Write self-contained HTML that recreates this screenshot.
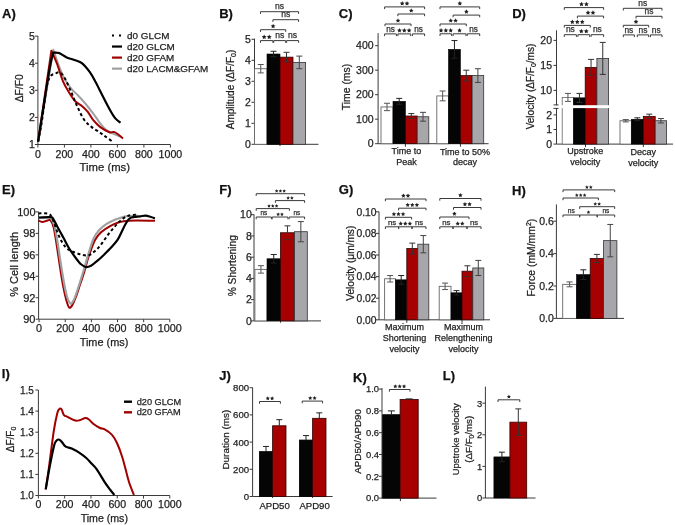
<!DOCTYPE html>
<html><head><meta charset="utf-8"><style>
html,body{margin:0;padding:0;background:#fff;width:675px;height:525px;overflow:hidden}
svg{display:block;font-family:"Liberation Sans", sans-serif}
text{stroke:#1e1e1e;stroke-width:0.25px;paint-order:stroke}
svg{will-change:transform}
</style></head><body>
<svg width="675" height="525" viewBox="0 0 675 525">
<rect width="675" height="525" fill="#fff"/>
<text x="2.1" y="18.4" font-size="13" text-anchor="start" font-weight="bold" fill="#111">A)</text>
<line x1="37.9" y1="36" x2="37.9" y2="144.5" stroke="#3a3a3a" stroke-width="1"/>
<line x1="34.9" y1="144.5" x2="37.9" y2="144.5" stroke="#3a3a3a" stroke-width="1"/>
<text x="34.9" y="148.28" font-size="10.5" text-anchor="end" font-weight="normal" fill="#1e1e1e">1</text>
<line x1="34.9" y1="117.4" x2="37.9" y2="117.4" stroke="#3a3a3a" stroke-width="1"/>
<text x="34.9" y="121.18" font-size="10.5" text-anchor="end" font-weight="normal" fill="#1e1e1e">2</text>
<line x1="34.9" y1="90.3" x2="37.9" y2="90.3" stroke="#3a3a3a" stroke-width="1"/>
<text x="34.9" y="94.08" font-size="10.5" text-anchor="end" font-weight="normal" fill="#1e1e1e">3</text>
<line x1="34.9" y1="63.19999999999999" x2="37.9" y2="63.19999999999999" stroke="#3a3a3a" stroke-width="1"/>
<text x="34.9" y="66.97999999999999" font-size="10.5" text-anchor="end" font-weight="normal" fill="#1e1e1e">4</text>
<line x1="34.9" y1="36.099999999999994" x2="37.9" y2="36.099999999999994" stroke="#3a3a3a" stroke-width="1"/>
<text x="34.9" y="39.879999999999995" font-size="10.5" text-anchor="end" font-weight="normal" fill="#1e1e1e">5</text>
<line x1="37.9" y1="144.5" x2="170.4" y2="144.5" stroke="#3a3a3a" stroke-width="1"/>
<line x1="37.9" y1="144.5" x2="37.9" y2="147.5" stroke="#3a3a3a" stroke-width="1"/>
<line x1="64.4" y1="144.5" x2="64.4" y2="147.5" stroke="#3a3a3a" stroke-width="1"/>
<line x1="90.9" y1="144.5" x2="90.9" y2="147.5" stroke="#3a3a3a" stroke-width="1"/>
<line x1="117.4" y1="144.5" x2="117.4" y2="147.5" stroke="#3a3a3a" stroke-width="1"/>
<line x1="143.9" y1="144.5" x2="143.9" y2="147.5" stroke="#3a3a3a" stroke-width="1"/>
<line x1="170.4" y1="144.5" x2="170.4" y2="147.5" stroke="#3a3a3a" stroke-width="1"/>
<text x="37.9" y="158.1" font-size="10.6" text-anchor="middle" font-weight="normal" fill="#1e1e1e">0</text>
<text x="64.4" y="158.1" font-size="10.6" text-anchor="middle" font-weight="normal" fill="#1e1e1e">200</text>
<text x="90.9" y="158.1" font-size="10.6" text-anchor="middle" font-weight="normal" fill="#1e1e1e">400</text>
<text x="117.4" y="158.1" font-size="10.6" text-anchor="middle" font-weight="normal" fill="#1e1e1e">600</text>
<text x="143.9" y="158.1" font-size="10.6" text-anchor="middle" font-weight="normal" fill="#1e1e1e">800</text>
<text x="170.4" y="158.1" font-size="10.6" text-anchor="middle" font-weight="normal" fill="#1e1e1e">1000</text>
<text x="104.8" y="171" font-size="11.3" text-anchor="middle" font-weight="normal" fill="#1e1e1e">Time (ms)</text>
<text x="23" y="88.3" font-size="10.3" text-anchor="middle" font-weight="normal" fill="#1e1e1e" transform="rotate(-90 23 88.3)">ΔF/F0</text>
<path d="M38.1 141.7 C40.6 126.4 50.8 65.1 53.3 49.8 C54.2 52.5 57.1 61.1 59.0 66.0 C60.9 70.9 62.7 75.5 64.8 79.3 C66.9 83.1 69.2 86.1 71.4 88.8 C73.6 91.5 75.7 93.0 78.1 95.5 C80.5 98.0 83.2 101.0 85.7 104.0 C88.2 107.0 90.9 110.4 93.3 113.6 C95.7 116.8 97.8 120.3 100.0 123.1 C102.2 125.8 103.8 128.2 106.3 130.1 C108.8 132.0 112.2 133.2 114.7 134.3 C117.2 135.4 120.0 136.5 121.0 136.9" fill="none" stroke="#a0a0a0" stroke-width="2" stroke-linejoin="round"/>
<path d="M38.1 141.7 C40.3 126.5 49.2 65.9 51.4 50.7 C52.4 52.9 55.2 58.9 57.1 64.0 C59.0 69.1 61.0 76.6 62.9 81.2 C64.8 85.8 66.5 88.4 68.6 91.7 C70.6 95.0 73.0 98.8 75.2 101.2 C77.4 103.6 79.8 104.2 81.9 106.0 C84.0 107.8 85.7 109.3 87.6 111.7 C89.5 114.1 91.2 117.7 93.3 120.2 C95.4 122.7 97.3 124.9 100.0 126.9 C102.7 128.9 107.0 131.3 109.4 132.2 C111.9 133.1 112.4 131.1 114.7 132.2 C117.0 133.2 121.6 137.4 123.0 138.5" fill="none" stroke="#a00000" stroke-width="2" stroke-linejoin="round"/>
<path d="M38.1 141.7 C38.7 138.3 40.5 130.3 41.9 121.2 C43.3 112.1 45.3 94.4 46.7 86.9 C48.1 79.4 49.1 78.6 50.5 76.4 C51.9 74.2 53.6 74.2 55.2 73.6 C56.8 73.0 58.4 71.8 60.0 72.6 C61.6 73.4 62.9 75.0 64.8 78.3 C66.7 81.6 69.4 88.0 71.4 92.6 C73.5 97.2 75.0 101.5 77.1 106.0 C79.2 110.5 81.4 115.8 83.8 119.3 C86.2 122.8 88.7 124.7 91.4 126.9 C94.1 129.1 97.7 131.0 100.0 132.6 C102.3 134.2 103.1 134.9 105.2 136.4 C107.3 137.9 111.4 140.8 112.6 141.7" fill="none" stroke="#000" stroke-width="2" stroke-linejoin="round" stroke-dasharray="3 2.6"/>
<path d="M38.1 141.7 C39.4 133.5 43.6 105.5 45.7 92.6 C47.8 79.6 49.2 70.7 50.5 64.0 C51.8 57.3 52.8 54.5 53.3 52.6 C54.2 52.7 56.8 52.2 59.0 53.0 C61.2 53.8 64.0 56.2 66.7 57.4 C69.4 58.6 72.7 59.2 75.2 60.2 C77.7 61.2 79.5 61.2 81.9 63.1 C84.3 65.0 87.3 68.7 89.5 71.7 C91.7 74.7 93.5 78.0 95.2 81.2 C97.0 84.4 97.8 86.4 100.0 90.7 C102.2 95.0 106.0 102.6 108.4 107.1 C110.9 111.6 112.7 115.0 114.7 117.6 C116.7 120.2 119.5 121.9 120.5 122.8" fill="none" stroke="#000" stroke-width="2.2" stroke-linejoin="round"/>
<line x1="112" y1="35.5" x2="122" y2="35.5" stroke="#000" stroke-width="2.2" stroke-dasharray="2 5"/>
<text x="127.1" y="39.0" font-size="9.9" text-anchor="start" font-weight="normal" fill="#1e1e1e">d0 GLCM</text>
<line x1="112" y1="46.55" x2="122" y2="46.55" stroke="#000" stroke-width="2.2"/>
<text x="127.1" y="50.05" font-size="9.9" text-anchor="start" font-weight="normal" fill="#1e1e1e">d20 GLCM</text>
<line x1="112" y1="57.6" x2="122" y2="57.6" stroke="#a00000" stroke-width="2.2"/>
<text x="127.1" y="61.1" font-size="9.9" text-anchor="start" font-weight="normal" fill="#1e1e1e">d20 GFAM</text>
<line x1="112" y1="68.65" x2="122" y2="68.65" stroke="#a0a0a0" stroke-width="2.2"/>
<text x="127.1" y="72.15" font-size="9.9" text-anchor="start" font-weight="normal" fill="#1e1e1e">d20 LACM&amp;GFAM</text>
<text x="219.2" y="18.4" font-size="13" text-anchor="start" font-weight="bold" fill="#111">B)</text>
<line x1="254.5" y1="38.6" x2="254.5" y2="144.3" stroke="#3a3a3a" stroke-width="1"/>
<line x1="251.5" y1="144.3" x2="254.5" y2="144.3" stroke="#3a3a3a" stroke-width="1"/>
<text x="250.8" y="148.08" font-size="10.5" text-anchor="end" font-weight="normal" fill="#1e1e1e">0</text>
<line x1="251.5" y1="123.30000000000001" x2="254.5" y2="123.30000000000001" stroke="#3a3a3a" stroke-width="1"/>
<text x="250.8" y="127.08000000000001" font-size="10.5" text-anchor="end" font-weight="normal" fill="#1e1e1e">1</text>
<line x1="251.5" y1="102.30000000000001" x2="254.5" y2="102.30000000000001" stroke="#3a3a3a" stroke-width="1"/>
<text x="250.8" y="106.08000000000001" font-size="10.5" text-anchor="end" font-weight="normal" fill="#1e1e1e">2</text>
<line x1="251.5" y1="81.30000000000001" x2="254.5" y2="81.30000000000001" stroke="#3a3a3a" stroke-width="1"/>
<text x="250.8" y="85.08000000000001" font-size="10.5" text-anchor="end" font-weight="normal" fill="#1e1e1e">3</text>
<line x1="251.5" y1="60.30000000000001" x2="254.5" y2="60.30000000000001" stroke="#3a3a3a" stroke-width="1"/>
<text x="250.8" y="64.08000000000001" font-size="10.5" text-anchor="end" font-weight="normal" fill="#1e1e1e">4</text>
<line x1="251.5" y1="39.30000000000001" x2="254.5" y2="39.30000000000001" stroke="#3a3a3a" stroke-width="1"/>
<text x="250.8" y="43.08000000000001" font-size="10.5" text-anchor="end" font-weight="normal" fill="#1e1e1e">5</text>
<line x1="254.5" y1="144.3" x2="318.5" y2="144.3" stroke="#3a3a3a" stroke-width="1"/>
<line x1="280" y1="144.3" x2="280" y2="146.10000000000002" stroke="#3a3a3a" stroke-width="1"/>
<rect x="254.5" y="68.7" width="12.5" height="75.60000000000001" fill="#fff" stroke="#666" stroke-width="0.9"/>
<path d="M257.75 64.5 H263.75 M260.75 64.5 V72.90000000000002 M257.75 72.90000000000002 H263.75" fill="none" stroke="#555" stroke-width="1"/>
<rect x="267" y="54.000000000000014" width="13" height="90.3" fill="#050505" stroke="#000" stroke-width="0.6"/>
<path d="M270.5 51.27000000000001 H276.5 M273.5 51.27000000000001 V56.73000000000002 M270.5 56.73000000000002 H276.5" fill="none" stroke="#222" stroke-width="1"/>
<rect x="280" y="57.150000000000006" width="13" height="87.15" fill="#a60000" stroke="#300" stroke-width="0.8"/>
<path d="M283.5 52.31999999999999 H289.5 M286.5 52.31999999999999 V61.980000000000004 M283.5 61.980000000000004 H289.5" fill="none" stroke="#333" stroke-width="1"/>
<rect x="293" y="62.40000000000002" width="12.600000000000023" height="81.89999999999999" fill="#a7a7ab" stroke="#333" stroke-width="0.8"/>
<path d="M296.3 56.10000000000001 H302.3 M299.3 56.10000000000001 V68.7 M296.3 68.7 H302.3" fill="none" stroke="#444" stroke-width="1"/>
<path d="M260.5 42.800000000000004 V40.6 H272.9 V42.800000000000004" fill="none" stroke="#3a3a3a" stroke-width="1.0"/>
<polygon points="264.17,34.55 264.91,36.06 266.58,36.30 265.37,37.47 265.66,39.13 264.17,38.34 262.68,39.13 262.97,37.47 261.76,36.30 263.43,36.06" fill="#222"/>
<polygon points="269.23,34.55 269.97,36.06 271.64,36.30 270.43,37.47 270.72,39.13 269.23,38.34 267.74,39.13 268.03,37.47 266.82,36.30 268.49,36.06" fill="#222"/>
<path d="M273.7 42.800000000000004 V40.6 H285.7 V42.800000000000004" fill="none" stroke="#3a3a3a" stroke-width="1.0"/>
<text x="279.7" y="38.3" font-size="8.58" text-anchor="middle" font-weight="normal" fill="#333">ns</text>
<path d="M286.6 42.800000000000004 V40.6 H298.6 V42.800000000000004" fill="none" stroke="#3a3a3a" stroke-width="1.0"/>
<text x="292.6" y="38.3" font-size="8.58" text-anchor="middle" font-weight="normal" fill="#333">ns</text>
<path d="M260.5 31.9 V29.7 H285.7 V31.9" fill="none" stroke="#3a3a3a" stroke-width="1.0"/>
<polygon points="273.10,23.65 273.84,25.16 275.51,25.40 274.30,26.57 274.59,28.23 273.10,27.45 271.61,28.23 271.90,26.57 270.69,25.40 272.36,25.16" fill="#222"/>
<path d="M272.9 21.9 V19.7 H298.6 V21.9" fill="none" stroke="#3a3a3a" stroke-width="1.0"/>
<text x="285.75" y="17.4" font-size="8.58" text-anchor="middle" font-weight="normal" fill="#333">ns</text>
<path d="M260.5 13.899999999999999 V11.7 H298.6 V13.899999999999999" fill="none" stroke="#3a3a3a" stroke-width="1.0"/>
<text x="279.55" y="9.4" font-size="8.58" text-anchor="middle" font-weight="normal" fill="#333">ns</text>
<text x="234" y="89.5" font-size="10" text-anchor="middle" font-weight="normal" fill="#1e1e1e" transform="rotate(-90 234 89.5)">Amplitude (ΔF/F<tspan font-size="7" dy="2">0</tspan><tspan dy="-2">)</tspan></text>
<text x="338.8" y="18.4" font-size="13" text-anchor="start" font-weight="bold" fill="#111">C)</text>
<line x1="378.1" y1="33.1" x2="378.1" y2="143.7" stroke="#3a3a3a" stroke-width="1"/>
<line x1="375.1" y1="143.7" x2="378.1" y2="143.7" stroke="#3a3a3a" stroke-width="1"/>
<text x="373.6" y="147.48" font-size="10.5" text-anchor="end" font-weight="normal" fill="#1e1e1e">0</text>
<line x1="375.1" y1="119.19999999999999" x2="378.1" y2="119.19999999999999" stroke="#3a3a3a" stroke-width="1"/>
<text x="373.6" y="122.97999999999999" font-size="10.5" text-anchor="end" font-weight="normal" fill="#1e1e1e">100</text>
<line x1="375.1" y1="94.69999999999999" x2="378.1" y2="94.69999999999999" stroke="#3a3a3a" stroke-width="1"/>
<text x="373.6" y="98.47999999999999" font-size="10.5" text-anchor="end" font-weight="normal" fill="#1e1e1e">200</text>
<line x1="375.1" y1="70.19999999999999" x2="378.1" y2="70.19999999999999" stroke="#3a3a3a" stroke-width="1"/>
<text x="373.6" y="73.97999999999999" font-size="10.5" text-anchor="end" font-weight="normal" fill="#1e1e1e">300</text>
<line x1="375.1" y1="45.69999999999999" x2="378.1" y2="45.69999999999999" stroke="#3a3a3a" stroke-width="1"/>
<text x="373.6" y="49.47999999999999" font-size="10.5" text-anchor="end" font-weight="normal" fill="#1e1e1e">400</text>
<line x1="378.1" y1="143.7" x2="488.6" y2="143.7" stroke="#3a3a3a" stroke-width="1"/>
<line x1="405.4" y1="143.7" x2="405.4" y2="146.7" stroke="#3a3a3a" stroke-width="1"/>
<line x1="460.4" y1="143.7" x2="460.4" y2="146.7" stroke="#3a3a3a" stroke-width="1"/>
<rect x="381" y="106.94999999999999" width="12" height="36.75" fill="#fff" stroke="#666" stroke-width="0.9"/>
<path d="M384.0 103.27499999999999 H390.0 M387.0 103.27499999999999 V110.62499999999999 M384.0 110.62499999999999 H390.0" fill="none" stroke="#555" stroke-width="1"/>
<rect x="393" y="101.315" width="12.399999999999977" height="42.38499999999999" fill="#050505" stroke="#000" stroke-width="0.6"/>
<path d="M396.2 98.375 H402.2 M399.2 98.375 V104.255 M396.2 104.255 H402.2" fill="none" stroke="#222" stroke-width="1"/>
<rect x="405.4" y="116.01499999999999" width="11.800000000000011" height="27.685000000000002" fill="#a60000" stroke="#300" stroke-width="0.8"/>
<path d="M408.29999999999995 113.565 H414.29999999999995 M411.29999999999995 113.565 V118.46499999999999 M408.29999999999995 118.46499999999999 H414.29999999999995" fill="none" stroke="#333" stroke-width="1"/>
<rect x="417.2" y="116.74999999999999" width="11.600000000000023" height="26.950000000000003" fill="#a7a7ab" stroke="#333" stroke-width="0.8"/>
<path d="M420.0 112.33999999999999 H426.0 M423.0 112.33999999999999 V121.16 M420.0 121.16 H426.0" fill="none" stroke="#444" stroke-width="1"/>
<rect x="436.8" y="95.92499999999998" width="11.699999999999989" height="47.775000000000006" fill="#fff" stroke="#666" stroke-width="0.9"/>
<path d="M439.65 91.02499999999999 H445.65 M442.65 91.02499999999999 V100.82499999999999 M439.65 100.82499999999999 H445.65" fill="none" stroke="#555" stroke-width="1"/>
<rect x="448.5" y="49.374999999999986" width="11.899999999999977" height="94.325" fill="#050505" stroke="#000" stroke-width="0.6"/>
<path d="M451.45 40.55499999999999 H457.45 M454.45 40.55499999999999 V58.19499999999999 M451.45 58.19499999999999 H457.45" fill="none" stroke="#222" stroke-width="1"/>
<rect x="460.4" y="75.58999999999999" width="11.700000000000045" height="68.11" fill="#a60000" stroke="#300" stroke-width="0.8"/>
<path d="M463.25 70.19999999999999 H469.25 M466.25 70.19999999999999 V80.97999999999999 M463.25 80.97999999999999 H469.25" fill="none" stroke="#333" stroke-width="1"/>
<rect x="472.1" y="75.58999999999999" width="11.599999999999966" height="68.11" fill="#a7a7ab" stroke="#333" stroke-width="0.8"/>
<path d="M474.9 68.72999999999999 H480.9 M477.9 68.72999999999999 V82.44999999999999 M474.9 82.44999999999999 H480.9" fill="none" stroke="#444" stroke-width="1"/>
<path d="M384.6 36.1 V33.9 H396.4 V36.1" fill="none" stroke="#3a3a3a" stroke-width="1.0"/>
<text x="390.5" y="31.719999999999995" font-size="8.19" text-anchor="middle" font-weight="normal" fill="#333">ns</text>
<path d="M397.9 36.1 V33.9 H410.7 V36.1" fill="none" stroke="#3a3a3a" stroke-width="1.0"/>
<polygon points="399.47,28.12 400.18,29.56 401.77,29.79 400.62,30.91 400.89,32.49 399.47,31.75 398.05,32.49 398.32,30.91 397.17,29.79 398.76,29.56" fill="#222"/>
<polygon points="404.30,28.12 405.01,29.56 406.60,29.79 405.45,30.91 405.72,32.49 404.30,31.75 402.88,32.49 403.15,30.91 402.00,29.79 403.59,29.56" fill="#222"/>
<polygon points="409.13,28.12 409.84,29.56 411.43,29.79 410.28,30.91 410.55,32.49 409.13,31.75 407.71,32.49 407.98,30.91 406.83,29.79 408.42,29.56" fill="#222"/>
<path d="M412.4 36.1 V33.9 H424.6 V36.1" fill="none" stroke="#3a3a3a" stroke-width="1.0"/>
<text x="418.5" y="31.719999999999995" font-size="8.19" text-anchor="middle" font-weight="normal" fill="#333">ns</text>
<path d="M385 26.2 V24 H411 V26.2" fill="none" stroke="#3a3a3a" stroke-width="1.0"/>
<polygon points="398.00,18.23 398.71,19.66 400.30,19.89 399.15,21.01 399.42,22.59 398.00,21.85 396.58,22.59 396.85,21.01 395.70,19.89 397.29,19.66" fill="#222"/>
<path d="M397.9 16.2 V14 H424.6 V16.2" fill="none" stroke="#3a3a3a" stroke-width="1.0"/>
<polygon points="411.25,8.23 411.96,9.66 413.55,9.89 412.40,11.01 412.67,12.59 411.25,11.85 409.83,12.59 410.10,11.01 408.95,9.89 410.54,9.66" fill="#222"/>
<path d="M384.6 9.100000000000001 V6.9 H424.6 V9.100000000000001" fill="none" stroke="#3a3a3a" stroke-width="1.0"/>
<polygon points="402.19,1.12 402.89,2.56 404.48,2.79 403.33,3.91 403.60,5.49 402.19,4.75 400.77,5.49 401.04,3.91 399.89,2.79 401.48,2.56" fill="#222"/>
<polygon points="407.02,1.12 407.72,2.56 409.31,2.79 408.16,3.91 408.43,5.49 407.02,4.75 405.60,5.49 405.87,3.91 404.72,2.79 406.31,2.56" fill="#222"/>
<path d="M440 36.0 V33.8 H451.7 V36.0" fill="none" stroke="#3a3a3a" stroke-width="1.0"/>
<polygon points="441.02,28.02 441.73,29.46 443.32,29.69 442.17,30.81 442.44,32.39 441.02,31.65 439.60,32.39 439.87,30.81 438.72,29.69 440.31,29.46" fill="#222"/>
<polygon points="445.85,28.02 446.56,29.46 448.15,29.69 447.00,30.81 447.27,32.39 445.85,31.65 444.43,32.39 444.70,30.81 443.55,29.69 445.14,29.46" fill="#222"/>
<polygon points="450.68,28.02 451.39,29.46 452.98,29.69 451.83,30.81 452.10,32.39 450.68,31.65 449.26,32.39 449.53,30.81 448.38,29.69 449.97,29.46" fill="#222"/>
<path d="M453.1 36.0 V33.8 H466 V36.0" fill="none" stroke="#3a3a3a" stroke-width="1.0"/>
<polygon points="459.55,28.02 460.26,29.46 461.85,29.69 460.70,30.81 460.97,32.39 459.55,31.65 458.13,32.39 458.40,30.81 457.25,29.69 458.84,29.46" fill="#222"/>
<path d="M467.2 36.0 V33.8 H479.7 V36.0" fill="none" stroke="#3a3a3a" stroke-width="1.0"/>
<text x="473.45" y="31.619999999999994" font-size="8.19" text-anchor="middle" font-weight="normal" fill="#333">ns</text>
<path d="M440 26.2 V24 H466.3 V26.2" fill="none" stroke="#3a3a3a" stroke-width="1.0"/>
<polygon points="450.73,18.23 451.44,19.66 453.03,19.89 451.88,21.01 452.15,22.59 450.73,21.85 449.32,22.59 449.59,21.01 448.44,19.89 450.03,19.66" fill="#222"/>
<polygon points="455.56,18.23 456.27,19.66 457.86,19.89 456.71,21.01 456.98,22.59 455.56,21.85 454.15,22.59 454.42,21.01 453.27,19.89 454.86,19.66" fill="#222"/>
<path d="M453.1 17.3 V15.1 H479.7 V17.3" fill="none" stroke="#3a3a3a" stroke-width="1.0"/>
<polygon points="466.40,9.32 467.11,10.76 468.70,10.99 467.55,12.11 467.82,13.69 466.40,12.95 464.98,13.69 465.25,12.11 464.10,10.99 465.69,10.76" fill="#222"/>
<path d="M440 9.100000000000001 V6.9 H479.7 V9.100000000000001" fill="none" stroke="#3a3a3a" stroke-width="1.0"/>
<polygon points="459.85,1.12 460.56,2.56 462.15,2.79 461.00,3.91 461.27,5.49 459.85,4.75 458.43,5.49 458.70,3.91 457.55,2.79 459.14,2.56" fill="#222"/>
<text x="349.9" y="87" font-size="10.4" text-anchor="middle" font-weight="normal" fill="#1e1e1e" transform="rotate(-90 349.9 87)">Time (ms)</text>
<text x="406.4" y="154.2" font-size="9" text-anchor="middle" font-weight="normal" fill="#1e1e1e">Time to</text>
<text x="406.4" y="165.2" font-size="9" text-anchor="middle" font-weight="normal" fill="#1e1e1e">Peak</text>
<text x="465" y="154.5" font-size="9" text-anchor="middle" font-weight="normal" fill="#1e1e1e">Time to 50%</text>
<text x="465" y="165.1" font-size="9" text-anchor="middle" font-weight="normal" fill="#1e1e1e">decay</text>
<text x="512.2" y="18.4" font-size="13" text-anchor="start" font-weight="bold" fill="#111">D)</text>
<line x1="556.5" y1="30.3" x2="556.5" y2="105.2" stroke="#3a3a3a" stroke-width="1"/>
<line x1="553.5" y1="90.4" x2="556.5" y2="90.4" stroke="#3a3a3a" stroke-width="1"/>
<text x="552.0" y="94.2" font-size="10.5" text-anchor="end" font-weight="normal" fill="#1e1e1e">10</text>
<line x1="553.5" y1="65.4" x2="556.5" y2="65.4" stroke="#3a3a3a" stroke-width="1"/>
<text x="552.0" y="69.2" font-size="10.5" text-anchor="end" font-weight="normal" fill="#1e1e1e">15</text>
<line x1="553.5" y1="40.400000000000006" x2="556.5" y2="40.400000000000006" stroke="#3a3a3a" stroke-width="1"/>
<text x="552.0" y="44.2" font-size="10.5" text-anchor="end" font-weight="normal" fill="#1e1e1e">20</text>
<line x1="556.5" y1="108.1" x2="556.5" y2="144.1" stroke="#3a3a3a" stroke-width="1"/>
<line x1="553.5" y1="144.1" x2="556.5" y2="144.1" stroke="#3a3a3a" stroke-width="1"/>
<text x="552.0" y="147.9" font-size="10.5" text-anchor="end" font-weight="normal" fill="#1e1e1e">0</text>
<line x1="553.5" y1="129.5" x2="556.5" y2="129.5" stroke="#3a3a3a" stroke-width="1"/>
<text x="552.0" y="133.3" font-size="10.5" text-anchor="end" font-weight="normal" fill="#1e1e1e">1</text>
<line x1="553.5" y1="114.89999999999999" x2="556.5" y2="114.89999999999999" stroke="#3a3a3a" stroke-width="1"/>
<text x="552.0" y="118.69999999999999" font-size="10.5" text-anchor="end" font-weight="normal" fill="#1e1e1e">2</text>
<line x1="553.5" y1="104.9" x2="558.5" y2="104.9" stroke="#3a3a3a" stroke-width="1"/>
<line x1="553.5" y1="108.4" x2="558.5" y2="108.4" stroke="#3a3a3a" stroke-width="1"/>
<line x1="556.5" y1="144.1" x2="673" y2="144.1" stroke="#3a3a3a" stroke-width="1"/>
<line x1="585.5" y1="144.1" x2="585.5" y2="147.1" stroke="#3a3a3a" stroke-width="1"/>
<line x1="643.3" y1="144.1" x2="643.3" y2="147.1" stroke="#3a3a3a" stroke-width="1"/>
<rect x="562.2" y="97.4" width="11.5" height="46.69999999999999" fill="#fff" stroke="#666" stroke-width="0.8"/>
<path d="M564.95 93.4 H570.95 M567.95 93.4 V101.4 M564.95 101.4 H570.95" fill="none" stroke="#555" stroke-width="1"/>
<rect x="573.7" y="97.9" width="11.5" height="46.19999999999999" fill="#050505" stroke="#000" stroke-width="0.8"/>
<path d="M576.45 93.4 H582.45 M579.45 93.4 V102.4 M576.45 102.4 H582.45" fill="none" stroke="#333" stroke-width="1"/>
<rect x="585.2" y="67.4" width="11.699999999999932" height="76.69999999999999" fill="#a60000" stroke="#300" stroke-width="0.8"/>
<path d="M588.05 59.400000000000006 H594.05 M591.05 59.400000000000006 V75.4 M588.05 75.4 H594.05" fill="none" stroke="#333" stroke-width="1"/>
<rect x="596.9" y="58.40000000000001" width="11.700000000000045" height="85.69999999999999" fill="#a7a7ab" stroke="#333" stroke-width="0.8"/>
<path d="M599.75 42.40000000000002 H605.75 M602.75 42.40000000000002 V74.4 M599.75 74.4 H605.75" fill="none" stroke="#333" stroke-width="1"/>
<rect x="560" y="105.2" width="50" height="2.9" fill="#fff"/>
<rect x="620" y="120.74" width="11.399999999999977" height="23.36" fill="#fff" stroke="#666" stroke-width="0.9"/>
<path d="M622.7 119.57199999999999 H628.7 M625.7 119.57199999999999 V121.90799999999999 M622.7 121.90799999999999 H628.7" fill="none" stroke="#555" stroke-width="1"/>
<rect x="631.4" y="119.28" width="11.899999999999977" height="24.819999999999993" fill="#050505" stroke="#000" stroke-width="0.6"/>
<path d="M634.3499999999999 117.82 H640.3499999999999 M637.3499999999999 117.82 V120.74 M634.3499999999999 120.74 H640.3499999999999" fill="none" stroke="#222" stroke-width="1"/>
<rect x="643.3" y="116.36" width="11.900000000000091" height="27.739999999999995" fill="#a60000" stroke="#300" stroke-width="0.8"/>
<path d="M646.25 114.17 H652.25 M649.25 114.17 V118.55 M646.25 118.55 H652.25" fill="none" stroke="#333" stroke-width="1"/>
<rect x="655.2" y="120.74" width="11.399999999999977" height="23.36" fill="#a7a7ab" stroke="#333" stroke-width="0.8"/>
<path d="M657.9000000000001 118.55 H663.9000000000001 M660.9000000000001 118.55 V122.92999999999999 M657.9000000000001 122.92999999999999 H663.9000000000001" fill="none" stroke="#444" stroke-width="1"/>
<path d="M564.3 36.900000000000006 V34.7 H576.4 V36.900000000000006" fill="none" stroke="#3a3a3a" stroke-width="1.0"/>
<text x="570.3499999999999" y="32.448" font-size="8.424" text-anchor="middle" font-weight="normal" fill="#333">ns</text>
<path d="M577.9 36.900000000000006 V34.7 H589.7 V36.900000000000006" fill="none" stroke="#3a3a3a" stroke-width="1.0"/>
<polygon points="581.32,28.76 582.05,30.24 583.68,30.48 582.50,31.63 582.78,33.25 581.32,32.49 579.86,33.25 580.13,31.63 578.95,30.48 580.59,30.24" fill="#222"/>
<polygon points="586.28,28.76 587.01,30.24 588.65,30.48 587.47,31.63 587.74,33.25 586.28,32.49 584.82,33.25 585.10,31.63 583.92,30.48 585.55,30.24" fill="#222"/>
<path d="M591.1 36.900000000000006 V34.7 H603.6 V36.900000000000006" fill="none" stroke="#3a3a3a" stroke-width="1.0"/>
<text x="597.35" y="32.448" font-size="8.424" text-anchor="middle" font-weight="normal" fill="#333">ns</text>
<path d="M564.3 27.599999999999998 V25.4 H590.3 V27.599999999999998" fill="none" stroke="#3a3a3a" stroke-width="1.0"/>
<polygon points="572.33,19.46 573.06,20.94 574.69,21.18 573.51,22.33 573.79,23.95 572.33,23.19 570.87,23.95 571.15,22.33 569.97,21.18 571.60,20.94" fill="#222"/>
<polygon points="577.30,19.46 578.03,20.94 579.66,21.18 578.48,22.33 578.76,23.95 577.30,23.19 575.84,23.95 576.12,22.33 574.94,21.18 576.57,20.94" fill="#222"/>
<polygon points="582.27,19.46 583.00,20.94 584.63,21.18 583.45,22.33 583.73,23.95 582.27,23.19 580.81,23.95 581.09,22.33 579.91,21.18 581.54,20.94" fill="#222"/>
<path d="M577.4 18.3 V16.1 H603.6 V18.3" fill="none" stroke="#3a3a3a" stroke-width="1.0"/>
<polygon points="588.02,10.16 588.75,11.64 590.38,11.88 589.20,13.03 589.48,14.65 588.02,13.89 586.56,14.65 586.83,13.03 585.65,11.88 587.29,11.64" fill="#222"/>
<polygon points="592.98,10.16 593.71,11.64 595.35,11.88 594.17,13.03 594.44,14.65 592.98,13.89 591.52,14.65 591.80,13.03 590.62,11.88 592.25,11.64" fill="#222"/>
<path d="M564.3 9.8 V7.6 H603.6 V9.8" fill="none" stroke="#3a3a3a" stroke-width="1.0"/>
<polygon points="581.47,1.66 582.20,3.14 583.83,3.38 582.65,4.53 582.93,6.15 581.47,5.39 580.01,6.15 580.28,4.53 579.10,3.38 580.74,3.14" fill="#222"/>
<polygon points="586.43,1.66 587.16,3.14 588.80,3.38 587.62,4.53 587.89,6.15 586.43,5.39 584.97,6.15 585.25,4.53 584.07,3.38 585.70,3.14" fill="#222"/>
<path d="M623.3 37.1 V34.9 H634.4 V37.1" fill="none" stroke="#3a3a3a" stroke-width="1.0"/>
<text x="628.8499999999999" y="32.647999999999996" font-size="8.424" text-anchor="middle" font-weight="normal" fill="#333">ns</text>
<path d="M637.3 37.1 V34.9 H648.7 V37.1" fill="none" stroke="#3a3a3a" stroke-width="1.0"/>
<text x="643.0" y="32.647999999999996" font-size="8.424" text-anchor="middle" font-weight="normal" fill="#333">ns</text>
<path d="M650.4 37.1 V34.9 H662 V37.1" fill="none" stroke="#3a3a3a" stroke-width="1.0"/>
<text x="656.2" y="32.647999999999996" font-size="8.424" text-anchor="middle" font-weight="normal" fill="#333">ns</text>
<path d="M623.3 27.5 V25.3 H648.7 V27.5" fill="none" stroke="#3a3a3a" stroke-width="1.0"/>
<polygon points="636.00,19.36 636.73,20.84 638.36,21.08 637.18,22.23 637.46,23.85 636.00,23.09 634.54,23.85 634.82,22.23 633.64,21.08 635.27,20.84" fill="#222"/>
<path d="M636 18.5 V16.3 H662 V18.5" fill="none" stroke="#3a3a3a" stroke-width="1.0"/>
<text x="649.0" y="14.048000000000002" font-size="8.424" text-anchor="middle" font-weight="normal" fill="#333">ns</text>
<path d="M623.3 10.5 V8.3 H662 V10.5" fill="none" stroke="#3a3a3a" stroke-width="1.0"/>
<text x="642.65" y="6.048" font-size="8.424" text-anchor="middle" font-weight="normal" fill="#333">ns</text>
<text x="534" y="86.5" font-size="10" text-anchor="middle" font-weight="normal" fill="#1e1e1e" transform="rotate(-90 534 86.5)">Velocity (ΔF/F<tspan font-size="7" dy="2">0</tspan><tspan dy="-2">/ms)</tspan></text>
<text x="585.2" y="154" font-size="9" text-anchor="middle" font-weight="normal" fill="#1e1e1e">Upstroke</text>
<text x="585.2" y="164.5" font-size="9" text-anchor="middle" font-weight="normal" fill="#1e1e1e">velocity</text>
<text x="643.3" y="154.9" font-size="9" text-anchor="middle" font-weight="normal" fill="#1e1e1e">Decay</text>
<text x="643.3" y="166.2" font-size="9" text-anchor="middle" font-weight="normal" fill="#1e1e1e">velocity</text>
<text x="2.1" y="194.3" font-size="13" text-anchor="start" font-weight="bold" fill="#111">E)</text>
<line x1="38.6" y1="211.7" x2="38.6" y2="319.2" stroke="#3a3a3a" stroke-width="1"/>
<line x1="35.6" y1="319.2" x2="38.6" y2="319.2" stroke="#3a3a3a" stroke-width="1"/>
<text x="35.5" y="323.15999999999997" font-size="11" text-anchor="end" font-weight="normal" fill="#1e1e1e">90</text>
<line x1="35.6" y1="297.74" x2="38.6" y2="297.74" stroke="#3a3a3a" stroke-width="1"/>
<text x="35.5" y="301.7" font-size="11" text-anchor="end" font-weight="normal" fill="#1e1e1e">92</text>
<line x1="35.6" y1="276.28" x2="38.6" y2="276.28" stroke="#3a3a3a" stroke-width="1"/>
<text x="35.5" y="280.23999999999995" font-size="11" text-anchor="end" font-weight="normal" fill="#1e1e1e">94</text>
<line x1="35.6" y1="254.82" x2="38.6" y2="254.82" stroke="#3a3a3a" stroke-width="1"/>
<text x="35.5" y="258.78" font-size="11" text-anchor="end" font-weight="normal" fill="#1e1e1e">96</text>
<line x1="35.6" y1="233.35999999999999" x2="38.6" y2="233.35999999999999" stroke="#3a3a3a" stroke-width="1"/>
<text x="35.5" y="237.32" font-size="11" text-anchor="end" font-weight="normal" fill="#1e1e1e">98</text>
<line x1="35.6" y1="211.89999999999998" x2="38.6" y2="211.89999999999998" stroke="#3a3a3a" stroke-width="1"/>
<text x="35.5" y="215.85999999999999" font-size="11" text-anchor="end" font-weight="normal" fill="#1e1e1e">100</text>
<line x1="38.6" y1="319.2" x2="169.79999999999998" y2="319.2" stroke="#3a3a3a" stroke-width="1"/>
<line x1="39.1" y1="319.2" x2="39.1" y2="322.2" stroke="#3a3a3a" stroke-width="1"/>
<line x1="65.24000000000001" y1="319.2" x2="65.24000000000001" y2="322.2" stroke="#3a3a3a" stroke-width="1"/>
<line x1="91.38" y1="319.2" x2="91.38" y2="322.2" stroke="#3a3a3a" stroke-width="1"/>
<line x1="117.52000000000001" y1="319.2" x2="117.52000000000001" y2="322.2" stroke="#3a3a3a" stroke-width="1"/>
<line x1="143.66" y1="319.2" x2="143.66" y2="322.2" stroke="#3a3a3a" stroke-width="1"/>
<line x1="169.79999999999998" y1="319.2" x2="169.79999999999998" y2="322.2" stroke="#3a3a3a" stroke-width="1"/>
<text x="39.1" y="332.2" font-size="10.8" text-anchor="middle" font-weight="normal" fill="#1e1e1e">0</text>
<text x="65.24000000000001" y="332.2" font-size="10.8" text-anchor="middle" font-weight="normal" fill="#1e1e1e">200</text>
<text x="91.38" y="332.2" font-size="10.8" text-anchor="middle" font-weight="normal" fill="#1e1e1e">400</text>
<text x="117.52000000000001" y="332.2" font-size="10.8" text-anchor="middle" font-weight="normal" fill="#1e1e1e">600</text>
<text x="143.66" y="332.2" font-size="10.8" text-anchor="middle" font-weight="normal" fill="#1e1e1e">800</text>
<text x="169.79999999999998" y="332.2" font-size="10.8" text-anchor="middle" font-weight="normal" fill="#1e1e1e">1000</text>
<text x="104" y="346" font-size="10.9" text-anchor="middle" font-weight="normal" fill="#1e1e1e">Time (ms)</text>
<text x="17.7" y="264.4" font-size="11" text-anchor="middle" font-weight="normal" fill="#1e1e1e" transform="rotate(-90 17.7 264.4)">% Cell length</text>
<path d="M38.5 220.5 C39.1 220.8 40.8 222.0 42.3 222.0 C43.8 222.0 46.1 220.8 47.5 220.5 C48.9 220.2 49.7 219.2 50.7 220.5 C51.8 221.8 52.8 223.6 53.8 228.0 C54.8 232.4 56.0 240.3 57.0 247.0 C58.0 253.7 59.1 261.3 60.1 267.9 C61.1 274.5 62.2 281.4 63.3 286.8 C64.3 292.2 65.4 296.9 66.4 300.4 C67.4 303.8 68.2 306.6 69.1 307.5 C70.0 308.4 70.9 307.3 72.0 305.6 C73.1 303.9 74.5 300.7 75.8 297.2 C77.1 293.7 78.6 288.9 80.0 284.7 C81.4 280.5 82.8 276.7 84.2 272.1 C85.6 267.5 86.7 262.4 88.5 257.0 C90.3 251.7 92.8 244.2 95.0 240.0 C97.2 235.8 99.2 234.0 101.7 231.7 C104.2 229.4 106.8 227.9 109.7 226.3 C112.6 224.7 115.9 223.2 119.0 222.3 C122.1 221.4 122.3 221.0 128.3 220.7 C134.3 220.4 150.6 220.7 155.0 220.7" fill="none" stroke="#a00000" stroke-width="2" stroke-linejoin="round"/>
<path d="M38.5 218.0 C40.0 217.9 45.4 217.4 47.5 217.5 C49.6 217.6 49.8 217.1 51.0 218.5 C52.2 219.9 53.4 221.8 54.5 226.0 C55.6 230.2 56.7 237.5 57.8 244.0 C58.9 250.5 59.9 258.3 61.0 265.0 C62.1 271.7 63.2 278.6 64.2 284.0 C65.2 289.4 66.2 294.2 67.3 297.5 C68.4 300.8 69.6 303.0 70.6 303.5 C71.6 304.0 72.4 302.5 73.5 300.5 C74.6 298.5 75.8 295.1 77.0 291.5 C78.2 287.9 79.7 283.2 81.0 279.0 C82.3 274.8 83.7 270.5 85.0 266.0 C86.3 261.5 87.5 256.6 89.0 252.0 C90.5 247.4 92.0 241.9 93.7 238.3 C95.4 234.7 96.8 232.7 99.0 230.3 C101.2 227.9 104.3 225.5 107.0 223.7 C109.7 221.9 111.9 220.9 115.0 219.7 C118.1 218.5 121.9 217.0 125.7 216.3 C129.5 215.6 135.7 215.8 137.7 215.7" fill="none" stroke="#a0a0a0" stroke-width="2.2" stroke-linejoin="round"/>
<path d="M38.5 213.4 C40.2 213.5 46.2 212.8 48.6 213.8 C51.0 214.9 51.0 215.9 52.8 219.7 C54.5 223.5 57.0 231.9 59.1 236.4 C61.2 240.9 63.3 244.5 65.4 246.9 C67.5 249.3 69.2 249.9 71.6 251.1 C74.0 252.3 77.2 253.6 80.0 254.3 C82.8 255.0 85.8 256.0 88.3 255.4 C90.8 254.8 92.8 252.9 95.0 251.0 C97.2 249.1 99.5 246.5 101.7 243.7 C103.9 240.9 106.1 237.2 108.3 234.3 C110.5 231.4 112.8 228.7 115.0 226.3 C117.2 223.9 119.5 221.5 121.7 219.7 C123.9 217.9 125.6 216.5 128.3 215.7 C131.0 214.8 136.1 214.8 137.7 214.6" fill="none" stroke="#000" stroke-width="2" stroke-linejoin="round" stroke-dasharray="3 2.6"/>
<path d="M38.5 217.6 C40.5 217.5 48.3 217.0 50.7 217.2 C53.1 217.3 52.0 217.0 53.0 218.5 C54.0 220.0 55.3 222.8 57.0 226.0 C58.7 229.2 61.2 233.7 63.3 237.5 C65.4 241.3 67.2 245.3 69.5 249.0 C71.8 252.7 75.1 257.1 76.9 259.5 C78.7 261.9 78.8 262.4 80.3 263.7 C81.8 264.9 83.9 266.7 85.7 267.0 C87.5 267.3 89.2 266.6 91.0 265.7 C92.8 264.8 94.5 263.1 96.3 261.7 C98.1 260.2 99.9 258.7 101.7 257.0 C103.5 255.3 105.2 253.5 107.0 251.7 C108.8 249.9 110.5 248.3 112.3 246.3 C114.1 244.3 116.1 242.1 117.7 239.7 C119.3 237.3 120.4 234.4 121.7 231.7 C123.0 229.0 124.4 225.9 125.7 223.7 C127.0 221.5 128.1 219.4 129.7 218.3 C131.2 217.2 133.2 217.3 135.0 217.0 C136.8 216.7 138.5 216.5 140.3 216.3 C142.1 216.1 143.9 215.6 145.7 215.7 C147.5 215.8 149.4 216.6 151.0 217.0 C152.6 217.4 154.3 218.1 155.0 218.3" fill="none" stroke="#000" stroke-width="2.2" stroke-linejoin="round"/>
<text x="219.2" y="194.3" font-size="13" text-anchor="start" font-weight="bold" fill="#111">F)</text>
<line x1="254" y1="214.5" x2="254" y2="320.9" stroke="#3a3a3a" stroke-width="1"/>
<line x1="251" y1="320.9" x2="254" y2="320.9" stroke="#3a3a3a" stroke-width="1"/>
<text x="251.8" y="324.67999999999995" font-size="10.5" text-anchor="end" font-weight="normal" fill="#1e1e1e">0</text>
<line x1="251" y1="299.65999999999997" x2="254" y2="299.65999999999997" stroke="#3a3a3a" stroke-width="1"/>
<text x="251.8" y="303.43999999999994" font-size="10.5" text-anchor="end" font-weight="normal" fill="#1e1e1e">2</text>
<line x1="251" y1="278.41999999999996" x2="254" y2="278.41999999999996" stroke="#3a3a3a" stroke-width="1"/>
<text x="251.8" y="282.19999999999993" font-size="10.5" text-anchor="end" font-weight="normal" fill="#1e1e1e">4</text>
<line x1="251" y1="257.17999999999995" x2="254" y2="257.17999999999995" stroke="#3a3a3a" stroke-width="1"/>
<text x="251.8" y="260.9599999999999" font-size="10.5" text-anchor="end" font-weight="normal" fill="#1e1e1e">6</text>
<line x1="251" y1="235.94" x2="254" y2="235.94" stroke="#3a3a3a" stroke-width="1"/>
<text x="251.8" y="239.72" font-size="10.5" text-anchor="end" font-weight="normal" fill="#1e1e1e">8</text>
<line x1="251" y1="214.7" x2="254" y2="214.7" stroke="#3a3a3a" stroke-width="1"/>
<text x="251.8" y="218.48" font-size="10.5" text-anchor="end" font-weight="normal" fill="#1e1e1e">10</text>
<line x1="254" y1="320.9" x2="321" y2="320.9" stroke="#3a3a3a" stroke-width="1"/>
<line x1="280.5" y1="320.9" x2="280.5" y2="322.7" stroke="#3a3a3a" stroke-width="1"/>
<rect x="254.9" y="269.393" width="12.099999999999994" height="51.507000000000005" fill="#fff" stroke="#666" stroke-width="0.9"/>
<path d="M257.95 265.676 H263.95 M260.95 265.676 V273.10999999999996 M257.95 273.10999999999996 H263.95" fill="none" stroke="#555" stroke-width="1"/>
<rect x="267" y="258.77299999999997" width="13.5" height="62.12700000000001" fill="#050505" stroke="#000" stroke-width="0.6"/>
<path d="M270.75 254.52499999999998 H276.75 M273.75 254.52499999999998 V263.02099999999996 M270.75 263.02099999999996 H276.75" fill="none" stroke="#222" stroke-width="1"/>
<rect x="280.5" y="232.75399999999996" width="13.899999999999977" height="88.14600000000002" fill="#a60000" stroke="#300" stroke-width="0.8"/>
<path d="M284.45 225.85099999999997 H290.45 M287.45 225.85099999999997 V239.65699999999998 M284.45 239.65699999999998 H290.45" fill="none" stroke="#333" stroke-width="1"/>
<rect x="294.4" y="231.69199999999998" width="12.900000000000034" height="89.208" fill="#a7a7ab" stroke="#333" stroke-width="0.8"/>
<path d="M297.85 221.603 H303.85 M300.85 221.603 V241.78099999999998 M297.85 241.78099999999998 H303.85" fill="none" stroke="#444" stroke-width="1"/>
<path d="M256.2 219.2 V217 H271.4 V219.2" fill="none" stroke="#3a3a3a" stroke-width="1.0"/>
<text x="263.79999999999995" y="215.372" font-size="6.396" text-anchor="middle" font-weight="normal" fill="#333">ns</text>
<path d="M272.2 219.2 V217 H287.9 V219.2" fill="none" stroke="#3a3a3a" stroke-width="1.0"/>
<polygon points="278.16,212.49 278.72,213.61 279.96,213.79 279.06,214.67 279.27,215.90 278.16,215.32 277.06,215.90 277.27,214.67 276.37,213.79 277.61,213.61" fill="#222"/>
<polygon points="281.94,212.49 282.49,213.61 283.73,213.79 282.83,214.67 283.04,215.90 281.94,215.32 280.83,215.90 281.04,214.67 280.14,213.79 281.38,213.61" fill="#222"/>
<path d="M289.1 219.2 V217 H304.6 V219.2" fill="none" stroke="#3a3a3a" stroke-width="1.0"/>
<text x="296.85" y="215.372" font-size="6.396" text-anchor="middle" font-weight="normal" fill="#333">ns</text>
<path d="M256.2 210.79999999999998 V208.6 H289.4 V210.79999999999998" fill="none" stroke="#3a3a3a" stroke-width="1.0"/>
<polygon points="269.03,204.09 269.58,205.21 270.82,205.39 269.92,206.27 270.14,207.50 269.03,206.92 267.92,207.50 268.13,206.27 267.23,205.39 268.47,205.21" fill="#222"/>
<polygon points="272.80,204.09 273.35,205.21 274.59,205.39 273.70,206.27 273.91,207.50 272.80,206.92 271.69,207.50 271.90,206.27 271.01,205.39 272.25,205.21" fill="#222"/>
<polygon points="276.57,204.09 277.13,205.21 278.37,205.39 277.47,206.27 277.68,207.50 276.57,206.92 275.46,207.50 275.68,206.27 274.78,205.39 276.02,205.21" fill="#222"/>
<path d="M275.4 202.79999999999998 V200.6 H304.6 V202.79999999999998" fill="none" stroke="#3a3a3a" stroke-width="1.0"/>
<polygon points="288.11,196.09 288.67,197.21 289.91,197.39 289.01,198.27 289.22,199.50 288.11,198.92 287.01,199.50 287.22,198.27 286.32,197.39 287.56,197.21" fill="#222"/>
<polygon points="291.89,196.09 292.44,197.21 293.68,197.39 292.78,198.27 292.99,199.50 291.89,198.92 290.78,199.50 290.99,198.27 290.09,197.39 291.33,197.21" fill="#222"/>
<path d="M256.2 195.89999999999998 V193.7 H304.6 V195.89999999999998" fill="none" stroke="#3a3a3a" stroke-width="1.0"/>
<polygon points="276.63,189.19 277.18,190.31 278.42,190.49 277.52,191.37 277.74,192.60 276.63,192.02 275.52,192.60 275.73,191.37 274.83,190.49 276.07,190.31" fill="#222"/>
<polygon points="280.40,189.19 280.95,190.31 282.19,190.49 281.30,191.37 281.51,192.60 280.40,192.02 279.29,192.60 279.50,191.37 278.61,190.49 279.85,190.31" fill="#222"/>
<polygon points="284.17,189.19 284.73,190.31 285.97,190.49 285.07,191.37 285.28,192.60 284.17,192.02 283.06,192.60 283.28,191.37 282.38,190.49 283.62,190.31" fill="#222"/>
<text x="236.2" y="265.7" font-size="10.2" text-anchor="middle" font-weight="normal" fill="#1e1e1e" transform="rotate(-90 236.2 265.7)">% Shortening</text>
<text x="338.8" y="194.3" font-size="13" text-anchor="start" font-weight="bold" fill="#111">G)</text>
<line x1="379" y1="211.7" x2="379" y2="319.8" stroke="#3a3a3a" stroke-width="1"/>
<line x1="376" y1="319.8" x2="379" y2="319.8" stroke="#3a3a3a" stroke-width="1"/>
<text x="376.5" y="323.50800000000004" font-size="10.3" text-anchor="end" font-weight="normal" fill="#1e1e1e">0.00</text>
<line x1="376" y1="298.2" x2="379" y2="298.2" stroke="#3a3a3a" stroke-width="1"/>
<text x="376.5" y="301.908" font-size="10.3" text-anchor="end" font-weight="normal" fill="#1e1e1e">0.02</text>
<line x1="376" y1="276.6" x2="379" y2="276.6" stroke="#3a3a3a" stroke-width="1"/>
<text x="376.5" y="280.30800000000005" font-size="10.3" text-anchor="end" font-weight="normal" fill="#1e1e1e">0.04</text>
<line x1="376" y1="255.0" x2="379" y2="255.0" stroke="#3a3a3a" stroke-width="1"/>
<text x="376.5" y="258.708" font-size="10.3" text-anchor="end" font-weight="normal" fill="#1e1e1e">0.06</text>
<line x1="376" y1="233.4" x2="379" y2="233.4" stroke="#3a3a3a" stroke-width="1"/>
<text x="376.5" y="237.108" font-size="10.3" text-anchor="end" font-weight="normal" fill="#1e1e1e">0.08</text>
<line x1="376" y1="211.8" x2="379" y2="211.8" stroke="#3a3a3a" stroke-width="1"/>
<text x="376.5" y="215.508" font-size="10.3" text-anchor="end" font-weight="normal" fill="#1e1e1e">0.10</text>
<line x1="379" y1="319.8" x2="490" y2="319.8" stroke="#3a3a3a" stroke-width="1"/>
<line x1="406.8" y1="319.8" x2="406.8" y2="322.8" stroke="#3a3a3a" stroke-width="1"/>
<line x1="462" y1="319.8" x2="462" y2="322.8" stroke="#3a3a3a" stroke-width="1"/>
<rect x="384.6" y="278.76" width="11.0" height="41.04000000000002" fill="#fff" stroke="#666" stroke-width="0.9"/>
<path d="M387.1 275.52 H393.1 M390.1 275.52 V282.0 M387.1 282.0 H393.1" fill="none" stroke="#555" stroke-width="1"/>
<rect x="395.6" y="279.84000000000003" width="11.199999999999989" height="39.95999999999998" fill="#050505" stroke="#000" stroke-width="0.6"/>
<path d="M398.20000000000005 275.52000000000004 H404.20000000000005 M401.20000000000005 275.52000000000004 V284.16 M398.20000000000005 284.16 H404.20000000000005" fill="none" stroke="#222" stroke-width="1"/>
<rect x="406.8" y="248.52" width="11.0" height="71.28" fill="#a60000" stroke="#300" stroke-width="0.8"/>
<path d="M409.3 243.12 H415.3 M412.3 243.12 V253.92000000000002 M409.3 253.92000000000002 H415.3" fill="none" stroke="#333" stroke-width="1"/>
<rect x="417.8" y="244.2" width="11.0" height="75.60000000000002" fill="#a7a7ab" stroke="#333" stroke-width="0.8"/>
<path d="M420.3 235.56 H426.3 M423.3 235.56 V252.84 M420.3 252.84 H426.3" fill="none" stroke="#444" stroke-width="1"/>
<rect x="439.2" y="286.32" width="11.800000000000011" height="33.48000000000002" fill="#fff" stroke="#666" stroke-width="0.9"/>
<path d="M442.1 283.08 H448.1 M445.1 283.08 V289.56 M442.1 289.56 H448.1" fill="none" stroke="#555" stroke-width="1"/>
<rect x="451" y="292.8" width="11" height="27.0" fill="#050505" stroke="#000" stroke-width="0.6"/>
<path d="M453.5 290.64 H459.5 M456.5 290.64 V294.96000000000004 M453.5 294.96000000000004 H459.5" fill="none" stroke="#222" stroke-width="1"/>
<rect x="462" y="271.2" width="10.800000000000011" height="48.60000000000002" fill="#a60000" stroke="#300" stroke-width="0.8"/>
<path d="M464.4 265.8 H470.4 M467.4 265.8 V276.6 M464.4 276.6 H470.4" fill="none" stroke="#333" stroke-width="1"/>
<rect x="472.8" y="267.96000000000004" width="11.0" height="51.839999999999975" fill="#a7a7ab" stroke="#333" stroke-width="0.8"/>
<path d="M475.3 260.40000000000003 H481.3 M478.3 260.40000000000003 V275.52 M475.3 275.52 H481.3" fill="none" stroke="#444" stroke-width="1"/>
<path d="M385.4 229.0 V226.8 H398.6 V229.0" fill="none" stroke="#3a3a3a" stroke-width="1.0"/>
<text x="392.0" y="224.74" font-size="7.8" text-anchor="middle" font-weight="normal" fill="#333">ns</text>
<path d="M398.6 229.0 V226.8 H412 V229.0" fill="none" stroke="#3a3a3a" stroke-width="1.0"/>
<polygon points="400.70,221.30 401.38,222.67 402.89,222.89 401.79,223.96 402.05,225.46 400.70,224.75 399.35,225.46 399.61,223.96 398.51,222.89 400.02,222.67" fill="#222"/>
<polygon points="405.30,221.30 405.98,222.67 407.49,222.89 406.39,223.96 406.65,225.46 405.30,224.75 403.95,225.46 404.21,223.96 403.11,222.89 404.62,222.67" fill="#222"/>
<polygon points="409.90,221.30 410.58,222.67 412.09,222.89 410.99,223.96 411.25,225.46 409.90,224.75 408.55,225.46 408.81,223.96 407.71,222.89 409.22,222.67" fill="#222"/>
<path d="M412 229.0 V226.8 H426 V229.0" fill="none" stroke="#3a3a3a" stroke-width="1.0"/>
<text x="419.0" y="224.74" font-size="7.8" text-anchor="middle" font-weight="normal" fill="#333">ns</text>
<path d="M385.4 219.5 V217.3 H411.6 V219.5" fill="none" stroke="#3a3a3a" stroke-width="1.0"/>
<polygon points="393.90,211.80 394.58,213.17 396.09,213.39 394.99,214.46 395.25,215.96 393.90,215.25 392.55,215.96 392.81,214.46 391.71,213.39 393.22,213.17" fill="#222"/>
<polygon points="398.50,211.80 399.18,213.17 400.69,213.39 399.59,214.46 399.85,215.96 398.50,215.25 397.15,215.96 397.41,214.46 396.31,213.39 397.82,213.17" fill="#222"/>
<polygon points="403.10,211.80 403.78,213.17 405.29,213.39 404.19,214.46 404.45,215.96 403.10,215.25 401.75,215.96 402.01,214.46 400.91,213.39 402.42,213.17" fill="#222"/>
<path d="M398.6 210.39999999999998 V208.2 H426 V210.39999999999998" fill="none" stroke="#3a3a3a" stroke-width="1.0"/>
<polygon points="407.70,202.70 408.38,204.07 409.89,204.29 408.79,205.36 409.05,206.86 407.70,206.15 406.35,206.86 406.61,205.36 405.51,204.29 407.02,204.07" fill="#222"/>
<polygon points="412.30,202.70 412.98,204.07 414.49,204.29 413.39,205.36 413.65,206.86 412.30,206.15 410.95,206.86 411.21,205.36 410.11,204.29 411.62,204.07" fill="#222"/>
<polygon points="416.90,202.70 417.58,204.07 419.09,204.29 417.99,205.36 418.25,206.86 416.90,206.15 415.55,206.86 415.81,205.36 414.71,204.29 416.22,204.07" fill="#222"/>
<path d="M385.4 201.2 V199 H426 V201.2" fill="none" stroke="#3a3a3a" stroke-width="1.0"/>
<polygon points="403.40,193.50 404.08,194.87 405.59,195.09 404.49,196.16 404.75,197.66 403.40,196.95 402.05,197.66 402.31,196.16 401.21,195.09 402.72,194.87" fill="#222"/>
<polygon points="408.00,193.50 408.68,194.87 410.19,195.09 409.09,196.16 409.35,197.66 408.00,196.95 406.65,197.66 406.91,196.16 405.81,195.09 407.32,194.87" fill="#222"/>
<path d="M439.8 229.0 V226.8 H453 V229.0" fill="none" stroke="#3a3a3a" stroke-width="1.0"/>
<text x="446.4" y="224.74" font-size="7.8" text-anchor="middle" font-weight="normal" fill="#333">ns</text>
<path d="M453 229.0 V226.8 H467 V229.0" fill="none" stroke="#3a3a3a" stroke-width="1.0"/>
<polygon points="457.70,221.30 458.38,222.67 459.89,222.89 458.79,223.96 459.05,225.46 457.70,224.75 456.35,225.46 456.61,223.96 455.51,222.89 457.02,222.67" fill="#222"/>
<polygon points="462.30,221.30 462.98,222.67 464.49,222.89 463.39,223.96 463.65,225.46 462.30,224.75 460.95,225.46 461.21,223.96 460.11,222.89 461.62,222.67" fill="#222"/>
<path d="M467 229.0 V226.8 H481 V229.0" fill="none" stroke="#3a3a3a" stroke-width="1.0"/>
<text x="474.0" y="224.74" font-size="7.8" text-anchor="middle" font-weight="normal" fill="#333">ns</text>
<path d="M439.8 219.2 V217 H469 V219.2" fill="none" stroke="#3a3a3a" stroke-width="1.0"/>
<polygon points="454.40,211.50 455.08,212.87 456.59,213.09 455.49,214.16 455.75,215.66 454.40,214.95 453.05,215.66 453.31,214.16 452.21,213.09 453.72,212.87" fill="#222"/>
<path d="M453.5 209.7 V207.5 H481 V209.7" fill="none" stroke="#3a3a3a" stroke-width="1.0"/>
<polygon points="464.95,202.00 465.63,203.37 467.14,203.59 466.04,204.66 466.30,206.16 464.95,205.45 463.60,206.16 463.86,204.66 462.76,203.59 464.27,203.37" fill="#222"/>
<polygon points="469.55,202.00 470.23,203.37 471.74,203.59 470.64,204.66 470.90,206.16 469.55,205.45 468.20,206.16 468.46,204.66 467.36,203.59 468.87,203.37" fill="#222"/>
<path d="M439.8 200.7 V198.5 H481 V200.7" fill="none" stroke="#3a3a3a" stroke-width="1.0"/>
<polygon points="460.40,193.00 461.08,194.37 462.59,194.59 461.49,195.66 461.75,197.16 460.40,196.45 459.05,197.16 459.31,195.66 458.21,194.59 459.72,194.37" fill="#222"/>
<text x="353.9" y="263.2" font-size="10.15" text-anchor="middle" font-weight="normal" fill="#1e1e1e" transform="rotate(-90 353.9 263.2)">Velocity (μm/ms)</text>
<text x="404.4" y="329.5" font-size="9" text-anchor="middle" font-weight="normal" fill="#1e1e1e">Maximum</text>
<text x="404.4" y="341" font-size="9" text-anchor="middle" font-weight="normal" fill="#1e1e1e">Shortening</text>
<text x="404.4" y="352.1" font-size="9" text-anchor="middle" font-weight="normal" fill="#1e1e1e">velocity</text>
<text x="463.5" y="329.5" font-size="9" text-anchor="middle" font-weight="normal" fill="#1e1e1e">Maximum</text>
<text x="463.5" y="341" font-size="9" text-anchor="middle" font-weight="normal" fill="#1e1e1e">Relengthening</text>
<text x="463.5" y="352.1" font-size="9" text-anchor="middle" font-weight="normal" fill="#1e1e1e">velocity</text>
<text x="512.1" y="194.9" font-size="13" text-anchor="start" font-weight="bold" fill="#111">H)</text>
<line x1="556.4" y1="204.4" x2="556.4" y2="318.4" stroke="#3a3a3a" stroke-width="1"/>
<line x1="553.4" y1="318.4" x2="556.4" y2="318.4" stroke="#3a3a3a" stroke-width="1"/>
<text x="553.9" y="322.17999999999995" font-size="10.5" text-anchor="end" font-weight="normal" fill="#1e1e1e">0.0</text>
<line x1="553.4" y1="286.0" x2="556.4" y2="286.0" stroke="#3a3a3a" stroke-width="1"/>
<text x="553.9" y="289.78" font-size="10.5" text-anchor="end" font-weight="normal" fill="#1e1e1e">0.2</text>
<line x1="553.4" y1="253.59999999999997" x2="556.4" y2="253.59999999999997" stroke="#3a3a3a" stroke-width="1"/>
<text x="553.9" y="257.37999999999994" font-size="10.5" text-anchor="end" font-weight="normal" fill="#1e1e1e">0.4</text>
<line x1="553.4" y1="221.2" x2="556.4" y2="221.2" stroke="#3a3a3a" stroke-width="1"/>
<text x="553.9" y="224.98" font-size="10.5" text-anchor="end" font-weight="normal" fill="#1e1e1e">0.6</text>
<line x1="556.4" y1="318.4" x2="624" y2="318.4" stroke="#3a3a3a" stroke-width="1"/>
<rect x="562.7" y="284.38" width="13.799999999999955" height="34.01999999999998" fill="#fff" stroke="#666" stroke-width="0.9"/>
<path d="M566.6 281.95 H572.6 M569.6 281.95 V286.81 M566.6 286.81 H572.6" fill="none" stroke="#555" stroke-width="1"/>
<rect x="576.5" y="274.65999999999997" width="13.700000000000045" height="43.74000000000001" fill="#050505" stroke="#000" stroke-width="0.6"/>
<path d="M580.35 269.79999999999995 H586.35 M583.35 269.79999999999995 V279.52 M580.35 279.52 H586.35" fill="none" stroke="#222" stroke-width="1"/>
<rect x="590.2" y="258.46" width="13.399999999999977" height="59.94" fill="#a60000" stroke="#300" stroke-width="0.8"/>
<path d="M593.9000000000001 254.40999999999997 H599.9000000000001 M596.9000000000001 254.40999999999997 V262.51 M593.9000000000001 262.51 H599.9000000000001" fill="none" stroke="#333" stroke-width="1"/>
<rect x="603.6" y="240.64" width="13.299999999999955" height="77.75999999999999" fill="#a7a7ab" stroke="#333" stroke-width="0.8"/>
<path d="M607.25 224.44 H613.25 M610.25 224.44 V256.84 M607.25 256.84 H613.25" fill="none" stroke="#444" stroke-width="1"/>
<path d="M563 217.2 V215 H579.7 V217.2" fill="none" stroke="#3a3a3a" stroke-width="1.0"/>
<text x="571.35" y="213.3" font-size="6.63" text-anchor="middle" font-weight="normal" fill="#333">ns</text>
<path d="M579.7 217.2 V215 H597.2 V217.2" fill="none" stroke="#3a3a3a" stroke-width="1.0"/>
<polygon points="588.45,210.32 589.02,211.49 590.31,211.68 589.38,212.58 589.60,213.86 588.45,213.26 587.30,213.86 587.52,212.58 586.59,211.68 587.88,211.49" fill="#222"/>
<path d="M597.2 217.2 V215 H614.7 V217.2" fill="none" stroke="#3a3a3a" stroke-width="1.0"/>
<text x="605.95" y="213.3" font-size="6.63" text-anchor="middle" font-weight="normal" fill="#333">ns</text>
<path d="M579.7 208.89999999999998 V206.7 H614.7 V208.89999999999998" fill="none" stroke="#3a3a3a" stroke-width="1.0"/>
<polygon points="595.25,202.02 595.82,203.19 597.10,203.38 596.17,204.28 596.39,205.56 595.25,204.96 594.10,205.56 594.32,204.28 593.39,203.38 594.67,203.19" fill="#222"/>
<polygon points="599.16,202.02 599.73,203.19 601.01,203.38 600.08,204.28 600.30,205.56 599.16,204.96 598.01,205.56 598.23,204.28 597.30,203.38 598.58,203.19" fill="#222"/>
<path d="M563 200.2 V198 H598.4 V200.2" fill="none" stroke="#3a3a3a" stroke-width="1.0"/>
<polygon points="576.79,193.32 577.36,194.49 578.65,194.68 577.72,195.58 577.94,196.86 576.79,196.26 575.64,196.86 575.86,195.58 574.93,194.68 576.22,194.49" fill="#222"/>
<polygon points="580.70,193.32 581.27,194.49 582.56,194.68 581.63,195.58 581.85,196.86 580.70,196.26 579.55,196.86 579.77,195.58 578.84,194.68 580.13,194.49" fill="#222"/>
<polygon points="584.61,193.32 585.18,194.49 586.47,194.68 585.54,195.58 585.76,196.86 584.61,196.26 583.46,196.86 583.68,195.58 582.75,194.68 584.04,194.49" fill="#222"/>
<path d="M563 192.1 V189.9 H614.7 V192.1" fill="none" stroke="#3a3a3a" stroke-width="1.0"/>
<polygon points="586.89,185.22 587.47,186.39 588.75,186.58 587.82,187.48 588.04,188.76 586.89,188.16 585.75,188.76 585.97,187.48 585.04,186.58 586.32,186.39" fill="#222"/>
<polygon points="590.81,185.22 591.38,186.39 592.66,186.58 591.73,187.48 591.95,188.76 590.81,188.16 589.66,188.76 589.88,187.48 588.95,186.58 590.23,186.39" fill="#222"/>
<text x="534.8" y="257.6" font-size="10.4" text-anchor="middle" font-weight="normal" fill="#1e1e1e" transform="rotate(-90 534.8 257.6)">Force (mM/mm<tspan font-size="7" dy="-4">2</tspan><tspan dy="4">)</tspan></text>
<text x="1.8" y="377.5" font-size="13" text-anchor="start" font-weight="bold" fill="#111">I)</text>
<line x1="38.4" y1="390" x2="38.4" y2="495.5" stroke="#3a3a3a" stroke-width="1"/>
<line x1="35.4" y1="495.5" x2="38.4" y2="495.5" stroke="#3a3a3a" stroke-width="1"/>
<text x="33.9" y="499.1" font-size="10" text-anchor="end" font-weight="normal" fill="#1e1e1e">1.0</text>
<line x1="35.4" y1="474.4" x2="38.4" y2="474.4" stroke="#3a3a3a" stroke-width="1"/>
<text x="33.9" y="478.0" font-size="10" text-anchor="end" font-weight="normal" fill="#1e1e1e">1.1</text>
<line x1="35.4" y1="453.3" x2="38.4" y2="453.3" stroke="#3a3a3a" stroke-width="1"/>
<text x="33.9" y="456.90000000000003" font-size="10" text-anchor="end" font-weight="normal" fill="#1e1e1e">1.2</text>
<line x1="35.4" y1="432.2" x2="38.4" y2="432.2" stroke="#3a3a3a" stroke-width="1"/>
<text x="33.9" y="435.8" font-size="10" text-anchor="end" font-weight="normal" fill="#1e1e1e">1.3</text>
<line x1="35.4" y1="411.1" x2="38.4" y2="411.1" stroke="#3a3a3a" stroke-width="1"/>
<text x="33.9" y="414.70000000000005" font-size="10" text-anchor="end" font-weight="normal" fill="#1e1e1e">1.4</text>
<line x1="35.4" y1="390.0" x2="38.4" y2="390.0" stroke="#3a3a3a" stroke-width="1"/>
<text x="33.9" y="393.6" font-size="10" text-anchor="end" font-weight="normal" fill="#1e1e1e">1.5</text>
<line x1="38.4" y1="495.5" x2="169.8" y2="495.5" stroke="#3a3a3a" stroke-width="1"/>
<line x1="38.4" y1="495.5" x2="38.4" y2="498.5" stroke="#3a3a3a" stroke-width="1"/>
<line x1="64.68" y1="495.5" x2="64.68" y2="498.5" stroke="#3a3a3a" stroke-width="1"/>
<line x1="90.96000000000001" y1="495.5" x2="90.96000000000001" y2="498.5" stroke="#3a3a3a" stroke-width="1"/>
<line x1="117.24000000000001" y1="495.5" x2="117.24000000000001" y2="498.5" stroke="#3a3a3a" stroke-width="1"/>
<line x1="143.52" y1="495.5" x2="143.52" y2="498.5" stroke="#3a3a3a" stroke-width="1"/>
<line x1="169.8" y1="495.5" x2="169.8" y2="498.5" stroke="#3a3a3a" stroke-width="1"/>
<text x="38.4" y="508.3" font-size="10.6" text-anchor="middle" font-weight="normal" fill="#1e1e1e">0</text>
<text x="64.68" y="508.3" font-size="10.6" text-anchor="middle" font-weight="normal" fill="#1e1e1e">200</text>
<text x="90.96000000000001" y="508.3" font-size="10.6" text-anchor="middle" font-weight="normal" fill="#1e1e1e">400</text>
<text x="117.24000000000001" y="508.3" font-size="10.6" text-anchor="middle" font-weight="normal" fill="#1e1e1e">600</text>
<text x="143.52" y="508.3" font-size="10.6" text-anchor="middle" font-weight="normal" fill="#1e1e1e">800</text>
<text x="169.8" y="508.3" font-size="10.6" text-anchor="middle" font-weight="normal" fill="#1e1e1e">1000</text>
<text x="104.3" y="521.8" font-size="10.6" text-anchor="middle" font-weight="normal" fill="#1e1e1e">Time (ms)</text>
<text x="14.3" y="439.5" font-size="10" text-anchor="middle" font-weight="normal" fill="#1e1e1e" transform="rotate(-90 14.3 439.5)">ΔF/F<tspan font-size="7" dy="1.6">0</tspan></text>
<path d="M45.7 489.4 C46.2 486.2 47.3 479.6 48.6 470.0 C49.9 460.4 52.3 440.9 53.7 431.5 C55.1 422.1 56.3 417.1 57.2 413.4 C58.1 409.7 58.5 409.9 59.2 409.2 C59.9 408.5 60.6 408.2 61.4 409.2 C62.2 410.2 63.1 414.0 64.0 415.2 C64.9 416.4 64.9 415.5 66.6 416.4 C68.3 417.2 72.1 419.6 74.3 420.3 C76.5 421.0 77.6 420.7 79.5 420.3 C81.4 419.9 83.9 418.2 85.5 418.1 C87.1 418.0 87.6 418.6 88.9 419.5 C90.2 420.4 91.4 422.3 93.2 423.7 C95.0 425.1 98.2 427.1 100.0 428.0 C101.8 428.9 102.3 428.1 104.3 429.2 C106.3 430.3 109.8 432.5 112.0 434.9 C114.2 437.3 115.5 439.8 117.2 443.5 C118.9 447.2 120.9 452.8 122.3 457.2 C123.7 461.6 124.7 465.9 125.8 470.0 C126.9 474.1 127.7 477.8 129.0 482.0 C130.3 486.2 133.1 492.8 133.9 495.0" fill="none" stroke="#a00000" stroke-width="2" stroke-linejoin="round"/>
<path d="M45.7 489.4 C46.4 485.3 48.6 472.2 50.0 465.0 C51.4 457.8 53.0 450.0 54.0 446.0 C55.0 442.0 55.5 442.0 56.3 440.9 C57.1 439.8 57.9 439.6 58.6 439.5 C59.3 439.4 59.9 440.0 60.5 440.5 C61.1 441.0 61.4 441.6 62.3 442.6 C63.2 443.6 64.1 445.6 65.7 446.6 C67.3 447.6 69.4 447.6 71.7 448.6 C74.0 449.7 77.1 451.3 79.5 452.9 C81.9 454.5 84.4 456.3 86.3 458.0 C88.2 459.7 89.3 461.1 91.0 463.0 C92.7 464.9 94.3 465.9 96.6 469.1 C98.9 472.3 102.5 478.7 104.7 482.1 C106.9 485.5 108.4 487.4 110.0 489.5 C111.6 491.6 113.7 494.1 114.4 495.0" fill="none" stroke="#000" stroke-width="2.2" stroke-linejoin="round"/>
<line x1="124" y1="401.7" x2="132" y2="401.7" stroke="#000" stroke-width="2.4"/>
<line x1="124" y1="412.3" x2="132" y2="412.3" stroke="#a00000" stroke-width="2.4"/>
<text x="136.7" y="404.6" font-size="9.2" text-anchor="start" font-weight="normal" fill="#1e1e1e">d20 GLCM</text>
<text x="136.7" y="415.2" font-size="9.2" text-anchor="start" font-weight="normal" fill="#1e1e1e">d20 GFAM</text>
<text x="219.3" y="379.9" font-size="13" text-anchor="start" font-weight="bold" fill="#111">J)</text>
<line x1="252.6" y1="387.5" x2="252.6" y2="496.5" stroke="#3a3a3a" stroke-width="1"/>
<line x1="249.6" y1="496.5" x2="252.6" y2="496.5" stroke="#3a3a3a" stroke-width="1"/>
<text x="249.1" y="499.956" font-size="9.6" text-anchor="end" font-weight="normal" fill="#1e1e1e">0</text>
<line x1="249.6" y1="469.3" x2="252.6" y2="469.3" stroke="#3a3a3a" stroke-width="1"/>
<text x="249.1" y="472.75600000000003" font-size="9.6" text-anchor="end" font-weight="normal" fill="#1e1e1e">200</text>
<line x1="249.6" y1="442.1" x2="252.6" y2="442.1" stroke="#3a3a3a" stroke-width="1"/>
<text x="249.1" y="445.55600000000004" font-size="9.6" text-anchor="end" font-weight="normal" fill="#1e1e1e">400</text>
<line x1="249.6" y1="414.9" x2="252.6" y2="414.9" stroke="#3a3a3a" stroke-width="1"/>
<text x="249.1" y="418.356" font-size="9.6" text-anchor="end" font-weight="normal" fill="#1e1e1e">600</text>
<line x1="249.6" y1="387.7" x2="252.6" y2="387.7" stroke="#3a3a3a" stroke-width="1"/>
<text x="249.1" y="391.156" font-size="9.6" text-anchor="end" font-weight="normal" fill="#1e1e1e">800</text>
<line x1="252.6" y1="496.5" x2="332.6" y2="496.5" stroke="#3a3a3a" stroke-width="1"/>
<line x1="272.6" y1="496.5" x2="272.6" y2="498.0" stroke="#3a3a3a" stroke-width="1"/>
<line x1="312.6" y1="496.5" x2="312.6" y2="498.0" stroke="#3a3a3a" stroke-width="1"/>
<rect x="259.4" y="451.62" width="13.200000000000045" height="44.879999999999995" fill="#050505" stroke="#000" stroke-width="0.8"/>
<path d="M263.0 446.452 H269.0 M266.0 446.452 V451.62" fill="none" stroke="#222" stroke-width="1"/>
<rect x="272.6" y="425.78" width="13.399999999999977" height="70.72000000000003" fill="#a60000" stroke="#300" stroke-width="0.8"/>
<path d="M276.3 419.65999999999997 H282.3 M279.3 419.65999999999997 V425.78" fill="none" stroke="#222" stroke-width="1"/>
<rect x="299.4" y="440.06" width="13.200000000000045" height="56.44" fill="#050505" stroke="#000" stroke-width="0.8"/>
<path d="M303.0 435.572 H309.0 M306.0 435.572 V440.06" fill="none" stroke="#222" stroke-width="1"/>
<rect x="312.6" y="418.3" width="13.399999999999977" height="78.19999999999999" fill="#a60000" stroke="#300" stroke-width="0.8"/>
<path d="M316.3 412.86 H322.3 M319.3 412.86 V418.3" fill="none" stroke="#222" stroke-width="1"/>
<path d="M259.5 403.7 V401.5 H280.4 V403.7" fill="none" stroke="#3a3a3a" stroke-width="1.0"/>
<polygon points="267.76,396.27 268.41,397.58 269.84,397.78 268.80,398.80 269.05,400.23 267.76,399.55 266.48,400.23 266.73,398.80 265.69,397.78 267.12,397.58" fill="#222"/>
<polygon points="272.13,396.27 272.78,397.58 274.21,397.78 273.17,398.80 273.42,400.23 272.13,399.55 270.85,400.23 271.10,398.80 270.06,397.78 271.49,397.58" fill="#222"/>
<path d="M302.2 403.3 V401.1 H322.6 V403.3" fill="none" stroke="#3a3a3a" stroke-width="1.0"/>
<polygon points="310.21,395.88 310.86,397.18 312.29,397.38 311.25,398.40 311.50,399.83 310.21,399.15 308.93,399.83 309.18,398.40 308.14,397.38 309.57,397.18" fill="#222"/>
<polygon points="314.58,395.88 315.23,397.18 316.66,397.38 315.62,398.40 315.87,399.83 314.58,399.15 313.30,399.83 313.55,398.40 312.51,397.38 313.94,397.18" fill="#222"/>
<text x="274.6" y="508.8" font-size="9.6" text-anchor="middle" font-weight="normal" fill="#1e1e1e">APD50</text>
<text x="314.6" y="508.8" font-size="9.6" text-anchor="middle" font-weight="normal" fill="#1e1e1e">APD90</text>
<text x="228.8" y="439.6" font-size="9.9" text-anchor="middle" font-weight="normal" fill="#1e1e1e" transform="rotate(-90 228.8 439.6)">Duration (ms)</text>
<text x="353" y="381.6" font-size="13" text-anchor="start" font-weight="bold" fill="#111">K)</text>
<line x1="382" y1="388" x2="382" y2="498.1" stroke="#3a3a3a" stroke-width="1"/>
<line x1="379" y1="498.1" x2="382" y2="498.1" stroke="#3a3a3a" stroke-width="1"/>
<text x="379" y="501.48400000000004" font-size="9.4" text-anchor="end" font-weight="normal" fill="#1e1e1e">0.0</text>
<line x1="379" y1="476.3" x2="382" y2="476.3" stroke="#3a3a3a" stroke-width="1"/>
<text x="379" y="479.684" font-size="9.4" text-anchor="end" font-weight="normal" fill="#1e1e1e">0.2</text>
<line x1="379" y1="454.5" x2="382" y2="454.5" stroke="#3a3a3a" stroke-width="1"/>
<text x="379" y="457.884" font-size="9.4" text-anchor="end" font-weight="normal" fill="#1e1e1e">0.4</text>
<line x1="379" y1="432.70000000000005" x2="382" y2="432.70000000000005" stroke="#3a3a3a" stroke-width="1"/>
<text x="379" y="436.08400000000006" font-size="9.4" text-anchor="end" font-weight="normal" fill="#1e1e1e">0.6</text>
<line x1="379" y1="410.90000000000003" x2="382" y2="410.90000000000003" stroke="#3a3a3a" stroke-width="1"/>
<text x="379" y="414.28400000000005" font-size="9.4" text-anchor="end" font-weight="normal" fill="#1e1e1e">0.8</text>
<line x1="379" y1="389.1" x2="382" y2="389.1" stroke="#3a3a3a" stroke-width="1"/>
<text x="379" y="392.48400000000004" font-size="9.4" text-anchor="end" font-weight="normal" fill="#1e1e1e">1.0</text>
<line x1="382" y1="498.1" x2="436.5" y2="498.1" stroke="#3a3a3a" stroke-width="1"/>
<line x1="400.4" y1="498.1" x2="400.4" y2="501.1" stroke="#3a3a3a" stroke-width="1"/>
<rect x="382.7" y="414.71500000000003" width="17.400000000000034" height="83.38499999999999" fill="#050505" stroke="#000" stroke-width="0.8"/>
<path d="M387.9 410.90000000000003 H394.9 M391.4 410.90000000000003 V414.71500000000003" fill="none" stroke="#222" stroke-width="1"/>
<rect x="400.1" y="399.45500000000004" width="18.099999999999966" height="98.64499999999998" fill="#a60000" stroke="#300" stroke-width="0.8"/>
<path d="M405.65 398.91 H412.65 M409.15 398.91 V399.45500000000004" fill="none" stroke="#222" stroke-width="1"/>
<path d="M389.4 391.7 V389.5 H410 V391.7" fill="none" stroke="#3a3a3a" stroke-width="1.0"/>
<polygon points="395.33,384.27 395.97,385.58 397.41,385.78 396.37,386.80 396.61,388.23 395.33,387.55 394.05,388.23 394.29,386.80 393.25,385.78 394.69,385.58" fill="#222"/>
<polygon points="399.70,384.27 400.34,385.58 401.78,385.78 400.74,386.80 400.98,388.23 399.70,387.55 398.42,388.23 398.66,386.80 397.62,385.78 399.06,385.58" fill="#222"/>
<polygon points="404.07,384.27 404.71,385.58 406.15,385.78 405.11,386.80 405.35,388.23 404.07,387.55 402.79,388.23 403.03,386.80 401.99,385.78 403.43,385.58" fill="#222"/>
<text x="361.3" y="441.4" font-size="9.75" text-anchor="middle" font-weight="normal" fill="#1e1e1e" transform="rotate(-90 361.3 441.4)">APD50/APD90</text>
<text x="442.7" y="379.9" font-size="13" text-anchor="start" font-weight="bold" fill="#111">L)</text>
<line x1="485.4" y1="386.6" x2="485.4" y2="498" stroke="#3a3a3a" stroke-width="1"/>
<line x1="482.4" y1="498.0" x2="485.4" y2="498.0" stroke="#3a3a3a" stroke-width="1"/>
<text x="482.2" y="501.384" font-size="9.4" text-anchor="end" font-weight="normal" fill="#1e1e1e">0</text>
<line x1="482.4" y1="466.4" x2="485.4" y2="466.4" stroke="#3a3a3a" stroke-width="1"/>
<text x="482.2" y="469.784" font-size="9.4" text-anchor="end" font-weight="normal" fill="#1e1e1e">1</text>
<line x1="482.4" y1="434.8" x2="485.4" y2="434.8" stroke="#3a3a3a" stroke-width="1"/>
<text x="482.2" y="438.184" font-size="9.4" text-anchor="end" font-weight="normal" fill="#1e1e1e">2</text>
<line x1="482.4" y1="403.2" x2="485.4" y2="403.2" stroke="#3a3a3a" stroke-width="1"/>
<text x="482.2" y="406.584" font-size="9.4" text-anchor="end" font-weight="normal" fill="#1e1e1e">3</text>
<line x1="485.4" y1="498" x2="535.5" y2="498" stroke="#3a3a3a" stroke-width="1"/>
<rect x="493.9" y="456.92" width="16.0" height="41.079999999999984" fill="#050505" stroke="#000" stroke-width="0.6"/>
<path d="M498.9 452.18 H504.9 M501.9 452.18 V461.65999999999997 M498.9 461.65999999999997 H504.9" fill="none" stroke="#222" stroke-width="1"/>
<rect x="509.9" y="422.15999999999997" width="16.800000000000068" height="75.84000000000003" fill="#a60000" stroke="#300" stroke-width="0.8"/>
<path d="M515.3 408.88800000000003 H521.3 M518.3 408.88800000000003 V435.432 M515.3 435.432 H521.3" fill="none" stroke="#333" stroke-width="1"/>
<path d="M498 402.0 V399.8 H519.8 V402.0" fill="none" stroke="#3a3a3a" stroke-width="1.0"/>
<polygon points="508.90,394.57 509.54,395.88 510.98,396.08 509.94,397.10 510.18,398.53 508.90,397.85 507.62,398.53 507.86,397.10 506.82,396.08 508.26,395.88" fill="#222"/>
<text x="459.5" y="439.3" font-size="9.45" text-anchor="middle" font-weight="normal" fill="#1e1e1e" transform="rotate(-90 459.5 439.3)">Upstroke velocity</text>
<text x="472" y="439.3" font-size="9.75" text-anchor="middle" font-weight="normal" fill="#1e1e1e" transform="rotate(-90 472 439.3)">(ΔF/F<tspan font-size="6.5" dy="1.8">0</tspan><tspan dy="-1.8">/ms)</tspan></text>
</svg>
</body></html>
